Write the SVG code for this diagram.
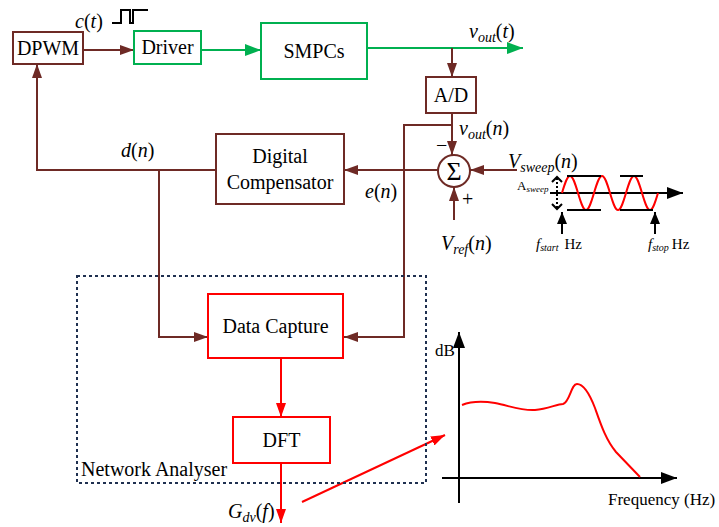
<svg xmlns="http://www.w3.org/2000/svg" width="719" height="527" viewBox="0 0 719 527" font-family="'Liberation Serif', 'DejaVu Serif', serif">
<style>
text{font-family:'Liberation Serif','DejaVu Serif',serif;fill:#000}
.lbl{font-size:20px}
.it{font-style:italic}
.box{fill:#fff;stroke-width:2}
.br{stroke:#6E2A25}
.gr{stroke:#00B050}
.rd{stroke:#FF0000}
.wbr{fill:none;stroke:#6E2A25;stroke-width:2}
.wgr{fill:none;stroke:#00B050;stroke-width:2}
.wrd{fill:none;stroke:#FF0000;stroke-width:2}
.wbk{fill:none;stroke:#000;stroke-width:2}
</style>
<defs>
<marker id="ab" markerUnits="userSpaceOnUse" markerWidth="14" markerHeight="10" refX="14" refY="5" orient="auto"><path d="M0,0 L14,5 L0,10 z" fill="#6E2A25"/></marker>
<marker id="ag" markerUnits="userSpaceOnUse" markerWidth="16" markerHeight="12" refX="16" refY="6" orient="auto"><path d="M0,0 L16,6 L0,12 z" fill="#00B050"/></marker>
<marker id="ar" markerUnits="userSpaceOnUse" markerWidth="14" markerHeight="10" refX="14" refY="5" orient="auto"><path d="M0,0 L14,5 L0,10 z" fill="#FF0000"/></marker>
<marker id="ak" markerUnits="userSpaceOnUse" markerWidth="16" markerHeight="12" refX="16" refY="6" orient="auto"><path d="M0,0 L16,6 L0,12 z" fill="#000"/></marker>
<marker id="aks" markerUnits="userSpaceOnUse" markerWidth="12" markerHeight="10" refX="12" refY="5" orient="auto"><path d="M0,0 L12,5 L0,10 z" fill="#000"/></marker>
</defs>

<g id="connectors">
<line class="wbr" x1="83" y1="50" x2="134" y2="50" marker-end="url(#ab)"/>
<line class="wgr" x1="201" y1="50" x2="261" y2="50" marker-end="url(#ag)"/>
<line class="wgr" x1="367" y1="48" x2="523" y2="48" marker-end="url(#ag)"/>
<line class="wbr" x1="452" y1="48" x2="452" y2="77" marker-end="url(#ab)"/>
<line class="wbr" x1="452" y1="113" x2="452" y2="155" marker-end="url(#ab)"/>
<polyline class="wbr" points="452,125 404,125 404,337 344,337" marker-end="url(#ab)"/>
<line class="wbr" x1="438" y1="170" x2="344" y2="170" marker-end="url(#ab)"/>
<line class="wbr" x1="517" y1="170" x2="470" y2="170" marker-end="url(#ab)"/>
<line class="wbr" x1="454" y1="220" x2="454" y2="187" marker-end="url(#ab)"/>
<polyline class="wbr" points="216,170 37,170 37,64" marker-end="url(#ab)"/>
<polyline class="wbr" points="159,170 159,337 208,337" marker-end="url(#ab)"/>
<line class="wrd" x1="281" y1="358" x2="281" y2="417" marker-end="url(#ar)"/>
<line class="wrd" x1="281" y1="463" x2="281" y2="523" marker-end="url(#ar)"/>
<line class="wrd" x1="302" y1="502" x2="445" y2="435" marker-end="url(#ar)"/>
</g>

<rect x="77" y="276" width="349" height="207" fill="none" stroke="#1F3050" stroke-width="2" stroke-dasharray="3,3"/>
<text class="lbl" x="81" y="476">Network Analyser</text>

<g id="dpwm"><rect class="box br" x="13" y="32" width="70" height="32"/><text class="lbl" x="48" y="55" text-anchor="middle">DPWM</text></g>
<g id="driver"><rect class="box gr" x="134" y="31" width="67" height="33"/><text class="lbl" x="167.5" y="54" text-anchor="middle">Driver</text></g>
<g id="smpcs"><rect class="box gr" x="261" y="23" width="106" height="56"/><text class="lbl" x="314" y="58" text-anchor="middle">SMPCs</text></g>
<g id="ad"><rect class="box br" x="426" y="77" width="50" height="36"/><text class="lbl" x="451" y="102" text-anchor="middle">A/D</text></g>
<g id="compensator"><rect class="box br" x="216" y="134" width="128" height="70"/><text class="lbl" x="280" y="163" text-anchor="middle">Digital</text><text class="lbl" x="280" y="189" text-anchor="middle">Compensator</text></g>
<g id="sum"><circle cx="454" cy="171" r="16" fill="#fff" stroke="#6E2A25" stroke-width="2"/><text x="454" y="180" font-size="26" text-anchor="middle">Σ</text></g>
<g id="datacapture"><rect class="box rd" x="208" y="294" width="135" height="64"/><text class="lbl" x="275.5" y="333" text-anchor="middle">Data Capture</text></g>
<g id="dft"><rect class="box rd" x="233" y="417" width="97" height="46"/><text class="lbl" x="281.5" y="447" text-anchor="middle">DFT</text></g>

<path class="wbk" d="M112,23 H121 V10 H130 V23 H133 V10 H148"/>
<text class="lbl" x="75" y="28"><tspan class="it">c</tspan>(<tspan class="it">t</tspan>)</text>
<text class="lbl" x="469" y="38"><tspan class="it">v</tspan><tspan class="it" font-size="14" dy="4">out</tspan><tspan dy="-4">(</tspan><tspan class="it">t</tspan>)</text>
<text class="lbl" x="121" y="157"><tspan class="it">d</tspan>(<tspan class="it">n</tspan>)</text>
<text class="lbl" x="365" y="198"><tspan class="it">e</tspan>(<tspan class="it">n</tspan>)</text>
<text class="lbl" x="459" y="135"><tspan class="it">v</tspan><tspan class="it" font-size="14" dy="4">out</tspan><tspan dy="-4">(</tspan><tspan class="it">n</tspan>)</text>
<text class="lbl" x="436" y="152">−</text>
<text class="lbl" x="462" y="206">+</text>
<text class="lbl" x="508" y="168"><tspan class="it">V</tspan><tspan class="it" font-size="14" dy="4">sweep</tspan><tspan dy="-4">(</tspan><tspan class="it">n</tspan>)</text>
<text class="lbl" x="441" y="250"><tspan class="it">V</tspan><tspan class="it" font-size="14" dy="4">ref</tspan><tspan dy="-4">(</tspan><tspan class="it">n</tspan>)</text>
<text class="lbl" x="228" y="518"><tspan class="it">G</tspan><tspan class="it" font-size="14" dy="4">dv</tspan><tspan dy="-4">(</tspan><tspan class="it">f</tspan>)</text>

<g id="sweep">
<line class="wbk" x1="550" y1="193" x2="683" y2="193" marker-end="url(#ak)"/>
<path class="wrd" d="M562,193 c2.61,-8.71 5.1,-17 8,-17 c2.9,0 5.39,8.29 8,17 c2.61,8.71 5.1,17 8,17 c2.9,0 5.39,-8.29 8,-17 c2.61,-8.71 5.1,-17 8,-17 c2.9,0 5.39,8.29 8,17 c2.61,8.71 5.1,17 8,17 c2.9,0 5.39,-8.29 8,-17 c2.61,-8.71 5.1,-17 8,-17 c2.9,0 5.39,8.29 8,17 c2.61,8.71 5.1,17 8,17 c2.9,0 5.39,-8.29 8,-17"/>
<path class="wbk" d="M567,176 H601 M620,176 H643 M567,210 H601 M620,210 H653"/>
<path fill="none" stroke="#000" stroke-width="2" stroke-dasharray="2,2" d="M557,178 V208"/>
<path fill="none" stroke="#000" stroke-width="2" d="M552,182 L557,177 L562,182 M552,204 L557,209 L562,204"/>
<line class="wbk" x1="562" y1="234" x2="562" y2="212" marker-end="url(#aks)"/>
<line class="wbk" x1="655" y1="234" x2="655" y2="212" marker-end="url(#aks)"/>
<text x="517" y="190" font-size="13">A<tspan class="it" font-size="9" dy="2">sweep</tspan></text>
<text x="536" y="249" font-size="15"><tspan class="it">f</tspan><tspan class="it" font-size="10" dy="2">start</tspan><tspan dy="-2" dx="6">Hz</tspan></text>
<text x="648" y="249" font-size="15"><tspan class="it">f</tspan><tspan class="it" font-size="10" dy="2">stop</tspan><tspan dy="-2" dx="3">Hz</tspan></text>
</g>

<g id="chart">
<line class="wbk" x1="459" y1="503" x2="459" y2="332" marker-end="url(#ak)"/>
<line class="wbk" x1="442" y1="478" x2="677" y2="478" marker-end="url(#ak)"/>
<text x="435" y="356" font-size="17">dB</text>
<text x="608" y="505" font-size="17">Frequency (Hz)</text>
<path class="wrd" d="M462,405 C472,401 482,401 495,403 C510,406 522,411 535,410 C548,409 557,404 563,404 C570,402 571,384 577,384 C584,384 590,395 595,408 C601,425 606,440 616,452 L640,477"/>
</g>
</svg>
